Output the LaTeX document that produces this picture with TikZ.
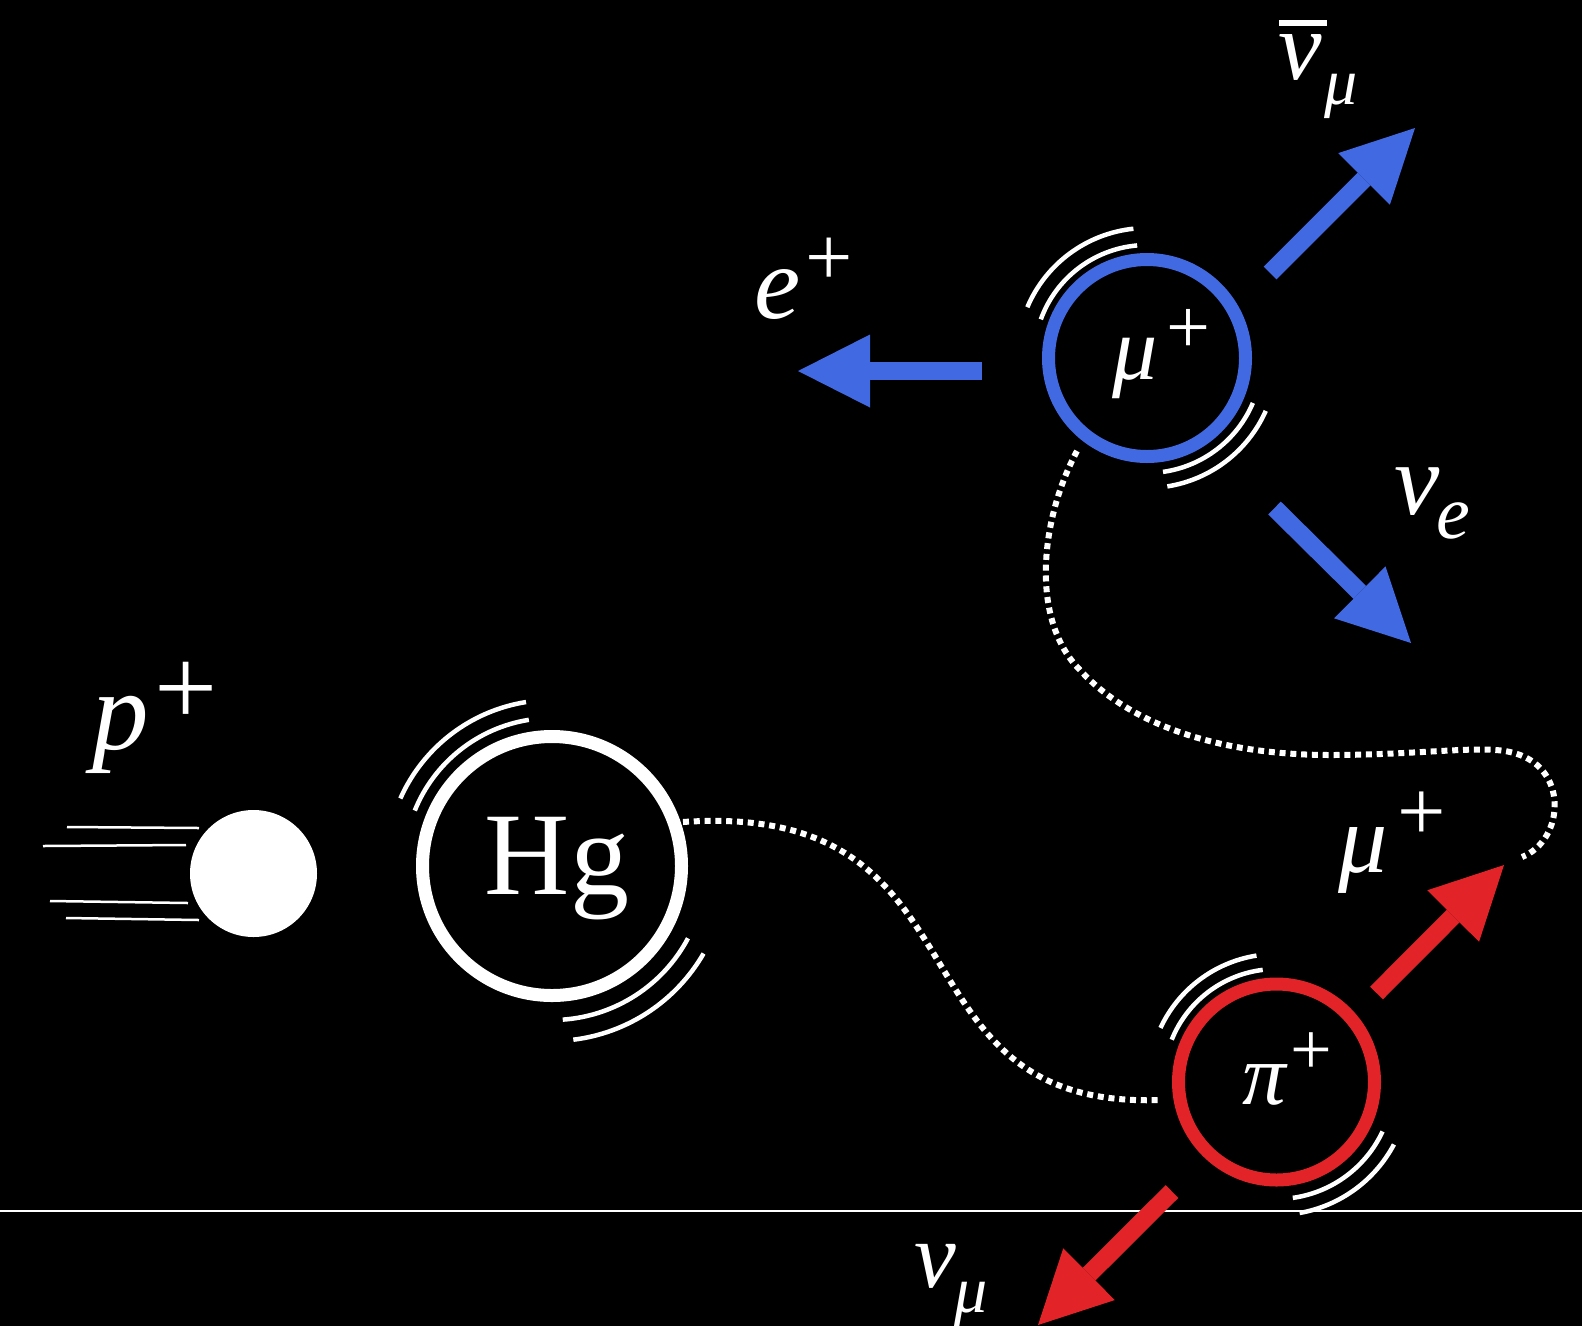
\documentclass[tikz,border=0pt]{standalone}
\usepackage{fontspec}
\setmainfont{Liberation Serif}
\usetikzlibrary{arrows.meta}
\definecolor{blueC}{RGB}{65,105,225}
\definecolor{redC}{RGB}{226,36,41}
\newcommand\myfs[1]{\fontsize{#1}{#1}\selectfont}
\tikzset{
  lbl/.style={inner sep=0pt, outer sep=0pt, text=white, anchor=center},
  ring/.style={circle, line width=13pt, inner sep=0pt},
  swoosh/.style={white, line width=4.5pt},
  trail/.style={white, line width=6pt, dash pattern=on 6pt off 4.8pt},
  emit/.style={line width=18pt, -{Triangle[length=72pt,width=73pt,line width=0pt]}},
  speed/.style={white, line width=2.5pt},
}
\begin{document}
\begin{tikzpicture}[x=1pt,y=-1pt]
\fill[black] (0,0) rectangle (1582,1326);
\useasboundingbox (0,0) rectangle (1582,1326);

% ground line
\coordinate (gl) at (0,1211);
\coordinate (gr) at (1582,1211);
\draw[white, line width=2pt] (gl) -- (gr);

% proton
\node[circle, fill=white, minimum size=127pt, inner sep=0pt] (pr) at (253.5,873.5) {};
\draw[speed] (67,827) -- (199,828);
\draw[speed] (43,846) -- (186,845);
\draw[speed] (50,901) -- (188,903);
\draw[speed] (66,918) -- (199,920);
\node[lbl, font=\myfs{113}\itshape] (pl) at (121,735) {p};
\node[lbl, font=\myfs{112}] (plp) at (186,694) {+};

% Hg
\node[ring, draw=white, minimum size=259pt] (hg) at (552,866) {};
\node[lbl, anchor=base, font=\myfs{118}] (hgl) at (557,894) {Hg};
\draw[swoosh] (hg.center) ++(-99:148) arc[start angle=-99, end angle=-158, radius=148];
\draw[swoosh] (hg.center) ++(-99:166) arc[start angle=-99, end angle=-156, radius=166];
\draw[swoosh] (hg.center) ++(28:154) arc[start angle=28, end angle=86, radius=154];
\draw[swoosh] (hg.center) ++(30:175) arc[start angle=30, end angle=83, radius=175];

% pi+
\node[ring, draw=redC, minimum size=196pt] (pi) at (1276.5,1082) {};
\node[lbl, font=\myfs{87}\itshape] (pil) at (1264.5,1085) {π};
\node[lbl, font=\myfs{74}] (pip) at (1311,1054) {+};
\draw[swoosh] (pi.center) ++(-97:113) arc[start angle=-97, end angle=-158, radius=113];
\draw[swoosh] (pi.center) ++(-99:128) arc[start angle=-99, end angle=-155, radius=128];
\draw[swoosh] (pi.center) ++(25:117) arc[start angle=25, end angle=82, radius=117];
\draw[swoosh] (pi.center) ++(28:133) arc[start angle=28, end angle=80, radius=133];

% mu+
\node[ring, draw=blueC, minimum size=197pt] (mu) at (1147,358) {};
\node[lbl, font=\myfs{90}\itshape] (mul) at (1135.5,368) {μ};
\node[lbl, font=\myfs{78}] (mup) at (1188,331) {+};
\draw[swoosh] (mu.center) ++(-95:113) arc[start angle=-95, end angle=-160, radius=113];
\draw[swoosh] (mu.center) ++(-96:130) arc[start angle=-96, end angle=-157, radius=130];
\draw[swoosh] (mu.center) ++(23:115) arc[start angle=23, end angle=82, radius=115];
\draw[swoosh] (mu.center) ++(24:130) arc[start angle=24, end angle=81, radius=130];

% dotted trails
\coordinate (t1s) at (683,822);
\coordinate (t1e) at (1160,1100);
\draw[trail] (t1s) .. controls (1000,800) and (880,1110) .. (t1e);
\coordinate (t2s) at (1077,451);
\coordinate (t2a) at (1080,670);
\coordinate (t2b) at (1330,755);
\coordinate (t2c) at (1510,752);
\coordinate (t2e) at (1522,857);
\draw[trail] (t2s) .. controls (1040,520) and (1030,620) .. (t2a)
  .. controls (1130,725) and (1220,755) .. (t2b)
  .. controls (1420,755) and (1480,745) .. (t2c)
  .. controls (1570,765) and (1565,840) .. (t2e);

% emission arrows
\coordinate (ea) at (982,371);   \coordinate (eb) at (798,371);
\draw[emit, blueC] (ea) -- (eb);
\coordinate (na) at (1270,273);  \coordinate (nb) at (1415,128);
\draw[emit, blueC] (na) -- (nb);
\coordinate (va) at (1274.5,508); \coordinate (vb) at (1411,643);
\draw[emit, blueC] (va) -- (vb);
\coordinate (ra) at (1376.5,993); \coordinate (rb) at (1504,865);
\draw[emit, redC] (ra) -- (rb);
\coordinate (sa) at (1172,1191.5); \coordinate (sb) at (1038,1325);
\draw[emit, redC] (sa) -- (sb);

% labels
\node[lbl, font=\myfs{104}\itshape] (el) at (778,294) {e};
\node[lbl, font=\myfs{84}] (elp) at (829,262) {+};

\node[lbl, font=\myfs{98}\itshape] (nbl) at (1300,57.5) {ν};
\fill[white] (1279,20) rectangle (1327,26);
\node[lbl, font=\myfs{66}\itshape] (nbs) at (1341.5,96.5) {μ};

\node[lbl, font=\myfs{102}\itshape] (nel) at (1417.5,491.5) {ν};
\node[lbl, font=\myfs{76}\itshape] (nes) at (1453,520.5) {e};

\node[lbl, font=\myfs{98}\itshape] (rml) at (1363,860) {μ};
\node[lbl, font=\myfs{86}] (rmp) at (1422,816) {+};

\node[lbl, font=\myfs{94}\itshape] (nml) at (935,1266.5) {ν};
\node[lbl, font=\myfs{66}\itshape] (nms) at (971.5,1304) {μ};
\end{tikzpicture}
\end{document}
